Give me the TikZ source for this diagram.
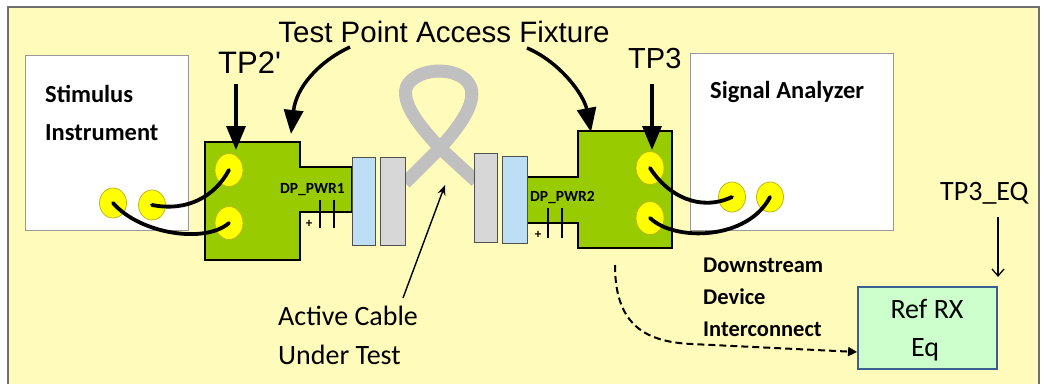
\documentclass[tikz,border=0pt]{standalone}
\usepackage{fontspec}
\setmainfont{Carlito}
\newfontfamily\arialfont{Liberation Sans}
\usetikzlibrary{arrows.meta,shapes.geometric}

\definecolor{panel}{RGB}{255,251,186}
\definecolor{panelrim}{RGB}{110,110,110}
\definecolor{fixgreen}{RGB}{153,204,0}
\definecolor{padyellow}{RGB}{255,255,0}
\definecolor{padrim}{RGB}{185,185,30}
\definecolor{plugblue}{RGB}{190,222,245}
\definecolor{pluggray}{RGB}{215,215,215}
\definecolor{plugrim}{RGB}{80,80,80}
\definecolor{loopgray}{RGB}{192,192,192}
\definecolor{eqgreen}{RGB}{204,255,204}
\definecolor{eqrim}{RGB}{60,95,145}

\tikzset{
  instrbox/.style={draw=gray!80, line width=1pt, fill=white, inner sep=0pt},
  fixture/.style={draw=black, line width=1.4pt, fill=fixgreen, line join=miter},
  pad/.style={ellipse, draw=padrim, line width=0.8pt, fill=padyellow, inner sep=0pt},
  plug/.style={draw=plugrim, line width=1pt, inner sep=0pt},
  cable/.style={draw=black, line width=3.8pt, line cap=round},
  loopcable/.style={draw=loopgray, line width=13pt, line join=round},
  plate/.style={draw=black, line width=2.4pt},
  bigarrow/.style={line width=3.5pt, -{Triangle[width=19pt,length=24pt]}},
  thinarrow/.style={line width=1.4pt, -{Stealth[width=8pt,length=10pt]}},
  label/.style={inner sep=0pt, anchor=base west},
  title/.style={label, font=\arialfont\fontsize{29.5}{32}\selectfont},
  tplabel/.style={label, font=\arialfont\fontsize{31}{34}\selectfont},
  boxlabel/.style={label, font=\bfseries\fontsize{24.5}{28}\selectfont},
  pwrlabel/.style={label, font=\bfseries\fontsize{15.5}{18}\selectfont},
  pluslabel/.style={inner sep=0pt, font=\bfseries\fontsize{13}{14}\selectfont},
  notelabel/.style={label, font=\fontsize{28}{32}\selectfont},
  downlabel/.style={label, font=\bfseries\fontsize{22.5}{26}\selectfont},
}

\begin{document}
\begin{tikzpicture}[x=1pt,y=-1pt]
\useasboundingbox (0,0) rectangle (1044,383);
\clip (0,0) rectangle (1044,383);
\fill[white] (0,0) rectangle (1044,383);

% background panel
\draw[fill=panel, draw=panelrim, line width=1.5pt] (8,7) rectangle (1039,400);

% cable under test (behind the plugs)
\draw[loopcable] (405,183) -- (440,148)
  .. controls (462,124) and (482,96) .. (466,80)
  .. controls (452,67) and (420,68) .. (408,84)
  .. controls (398,100) and (420,127) .. (440,148)
  -- (476,181);

% instruments
\node[instrbox, minimum width=163pt, minimum height=175pt] (stim) at (106.5,142.5) {};
\node[instrbox, minimum width=203pt, minimum height=177pt] (sa) at (791.5,141.5) {};
\node[boxlabel] (stimA) at (45,102) {Stimulus};
\node[boxlabel] (stimB) at (45,140) {Instrument};
\node[boxlabel] (saA) at (710,98) {Signal Analyzer};

% test point access fixtures
\draw[fixture] (205,142) -- (300,142) -- (300,167) -- (352,167) -- (352,212)
  -- (300,212) -- (300,260) -- (205,260) -- cycle;
\draw[fixture] (578,131) -- (672,131) -- (672,248) -- (578,248) -- (578,223)
  -- (527,223) -- (527,177) -- (578,177) -- cycle;

% DC blocking capacitors
\draw[plate] (320,200) -- (320,228);
\draw[plate] (334,200) -- (334,228);
\draw[plate] (548,208) -- (548,238);
\draw[plate] (562,208) -- (562,238);
\node[pluslabel] (plus1) at (309,224) {+};
\node[pluslabel] (plus2) at (538,235) {+};
\node[pwrlabel] (pwr1) at (280,193) {DP\_PWR1};
\node[pwrlabel] (pwr2) at (530,201) {DP\_PWR2};

% cable plugs
\node[plug, fill=plugblue, minimum width=23pt, minimum height=88pt] (plugLb) at (363.5,201) {};
\node[plug, fill=pluggray, minimum width=25pt, minimum height=88pt] (plugLg) at (392.5,201) {};
\node[plug, fill=pluggray, minimum width=23pt, minimum height=89pt] (plugRg) at (485.5,197.5) {};
\node[plug, fill=plugblue, minimum width=25pt, minimum height=87pt] (plugRb) at (514.5,199.5) {};

% coax connectors
\node[pad, minimum width=27pt, minimum height=30pt] (s1) at (113,203) {};
\node[pad, minimum width=27pt, minimum height=30pt] (s2) at (152,205) {};
\node[pad, minimum width=28pt, minimum height=33pt] (L1) at (229,170) {};
\node[pad, minimum width=28pt, minimum height=33pt] (L2) at (229,223) {};
\node[pad, minimum width=28pt, minimum height=33pt] (R1) at (650,168) {};
\node[pad, minimum width=28pt, minimum height=33pt] (R2) at (650,218) {};
\node[pad, minimum width=27pt, minimum height=30pt] (a1) at (732,197) {};
\node[pad, minimum width=27pt, minimum height=30pt] (a2) at (770,197) {};

% coax cables
\draw[cable] (s1.center) .. controls (140,234) and (205,244) .. (L2.center);
\draw[cable] (s2.center) .. controls (188,212) and (215,196) .. (L1.center);
\draw[cable] (R1.center) .. controls (668,196) and (700,212) .. (a1.center);
\draw[cable] (R2.center) .. controls (675,242) and (748,240) .. (a2.center);

% fixture title and arrows
\node[title, anchor=base] (tpaf) at (444,42) {Test Point Access Fixture};
\coordinate (tpafL) at (350,47);
\coordinate (fixLtop) at (291,134);
\coordinate (tpafR) at (527,48);
\coordinate (fixRtop) at (591,132);
\draw[bigarrow] (tpafL) .. controls (318,62) and (296,88) .. (fixLtop);
\draw[bigarrow] (tpafR) .. controls (560,62) and (584,95) .. (fixRtop);

% test point labels
\node[tplabel] (tp2) at (218,73) {TP2'};
\node[tplabel, font=\arialfont\fontsize{29}{32}\selectfont] (tp3) at (628,68) {TP3};
\coordinate (tp2from) at (236,84);
\coordinate (tp2to) at (236,150);
\coordinate (tp3from) at (652,84);
\coordinate (tp3to) at (652,150);
\draw[bigarrow] (tp2from) -- (tp2to);
\draw[bigarrow] (tp3from) -- (tp3to);

% cable under test label
\node[notelabel] (act1) at (278,325) {Active Cable};
\node[notelabel] (act2) at (278,364) {Under Test};
\coordinate (actfrom) at (403,298);
\coordinate (acttip) at (445,185);
\draw[thinarrow] (actfrom) -- (acttip);

% downstream interconnect
\node[downlabel] (dsA) at (703,272) {Downstream};
\node[downlabel] (dsB) at (703,304) {Device};
\node[downlabel] (dsC) at (703,336) {Interconnect};

% reference receiver equalizer
\node[draw=eqrim, line width=1.8pt, fill=eqgreen, minimum width=139pt, minimum height=82pt, inner sep=0pt] (eq) at (927.5,328) {};
\node[inner sep=0pt, anchor=base, font=\fontsize{28}{32}\selectfont] (eqA) at (927,318) {Ref RX};
\node[inner sep=0pt, anchor=base, font=\fontsize{28}{32}\selectfont] (eqB) at (925,356) {Eq};
\node[notelabel] (tp3eq) at (940,200) {TP3\_EQ};
\coordinate (tp3eqfrom) at (998,217);
\coordinate (tp3eqto) at (998,277);
\draw[line width=1.3pt, -{Straight Barb[length=7pt,width=12pt]}] (tp3eqfrom) -- (tp3eqto);

% downstream path to the equalizer
\coordinate (dsfrom) at (615,265);
\draw[line width=2pt, dash pattern=on 7pt off 4pt, -{Triangle[width=9pt,length=9pt]}]
  (dsfrom) .. controls (615,322) and (642,342) .. (692,344) -- (eq.west |- 0,352);
\end{tikzpicture}
\end{document}
